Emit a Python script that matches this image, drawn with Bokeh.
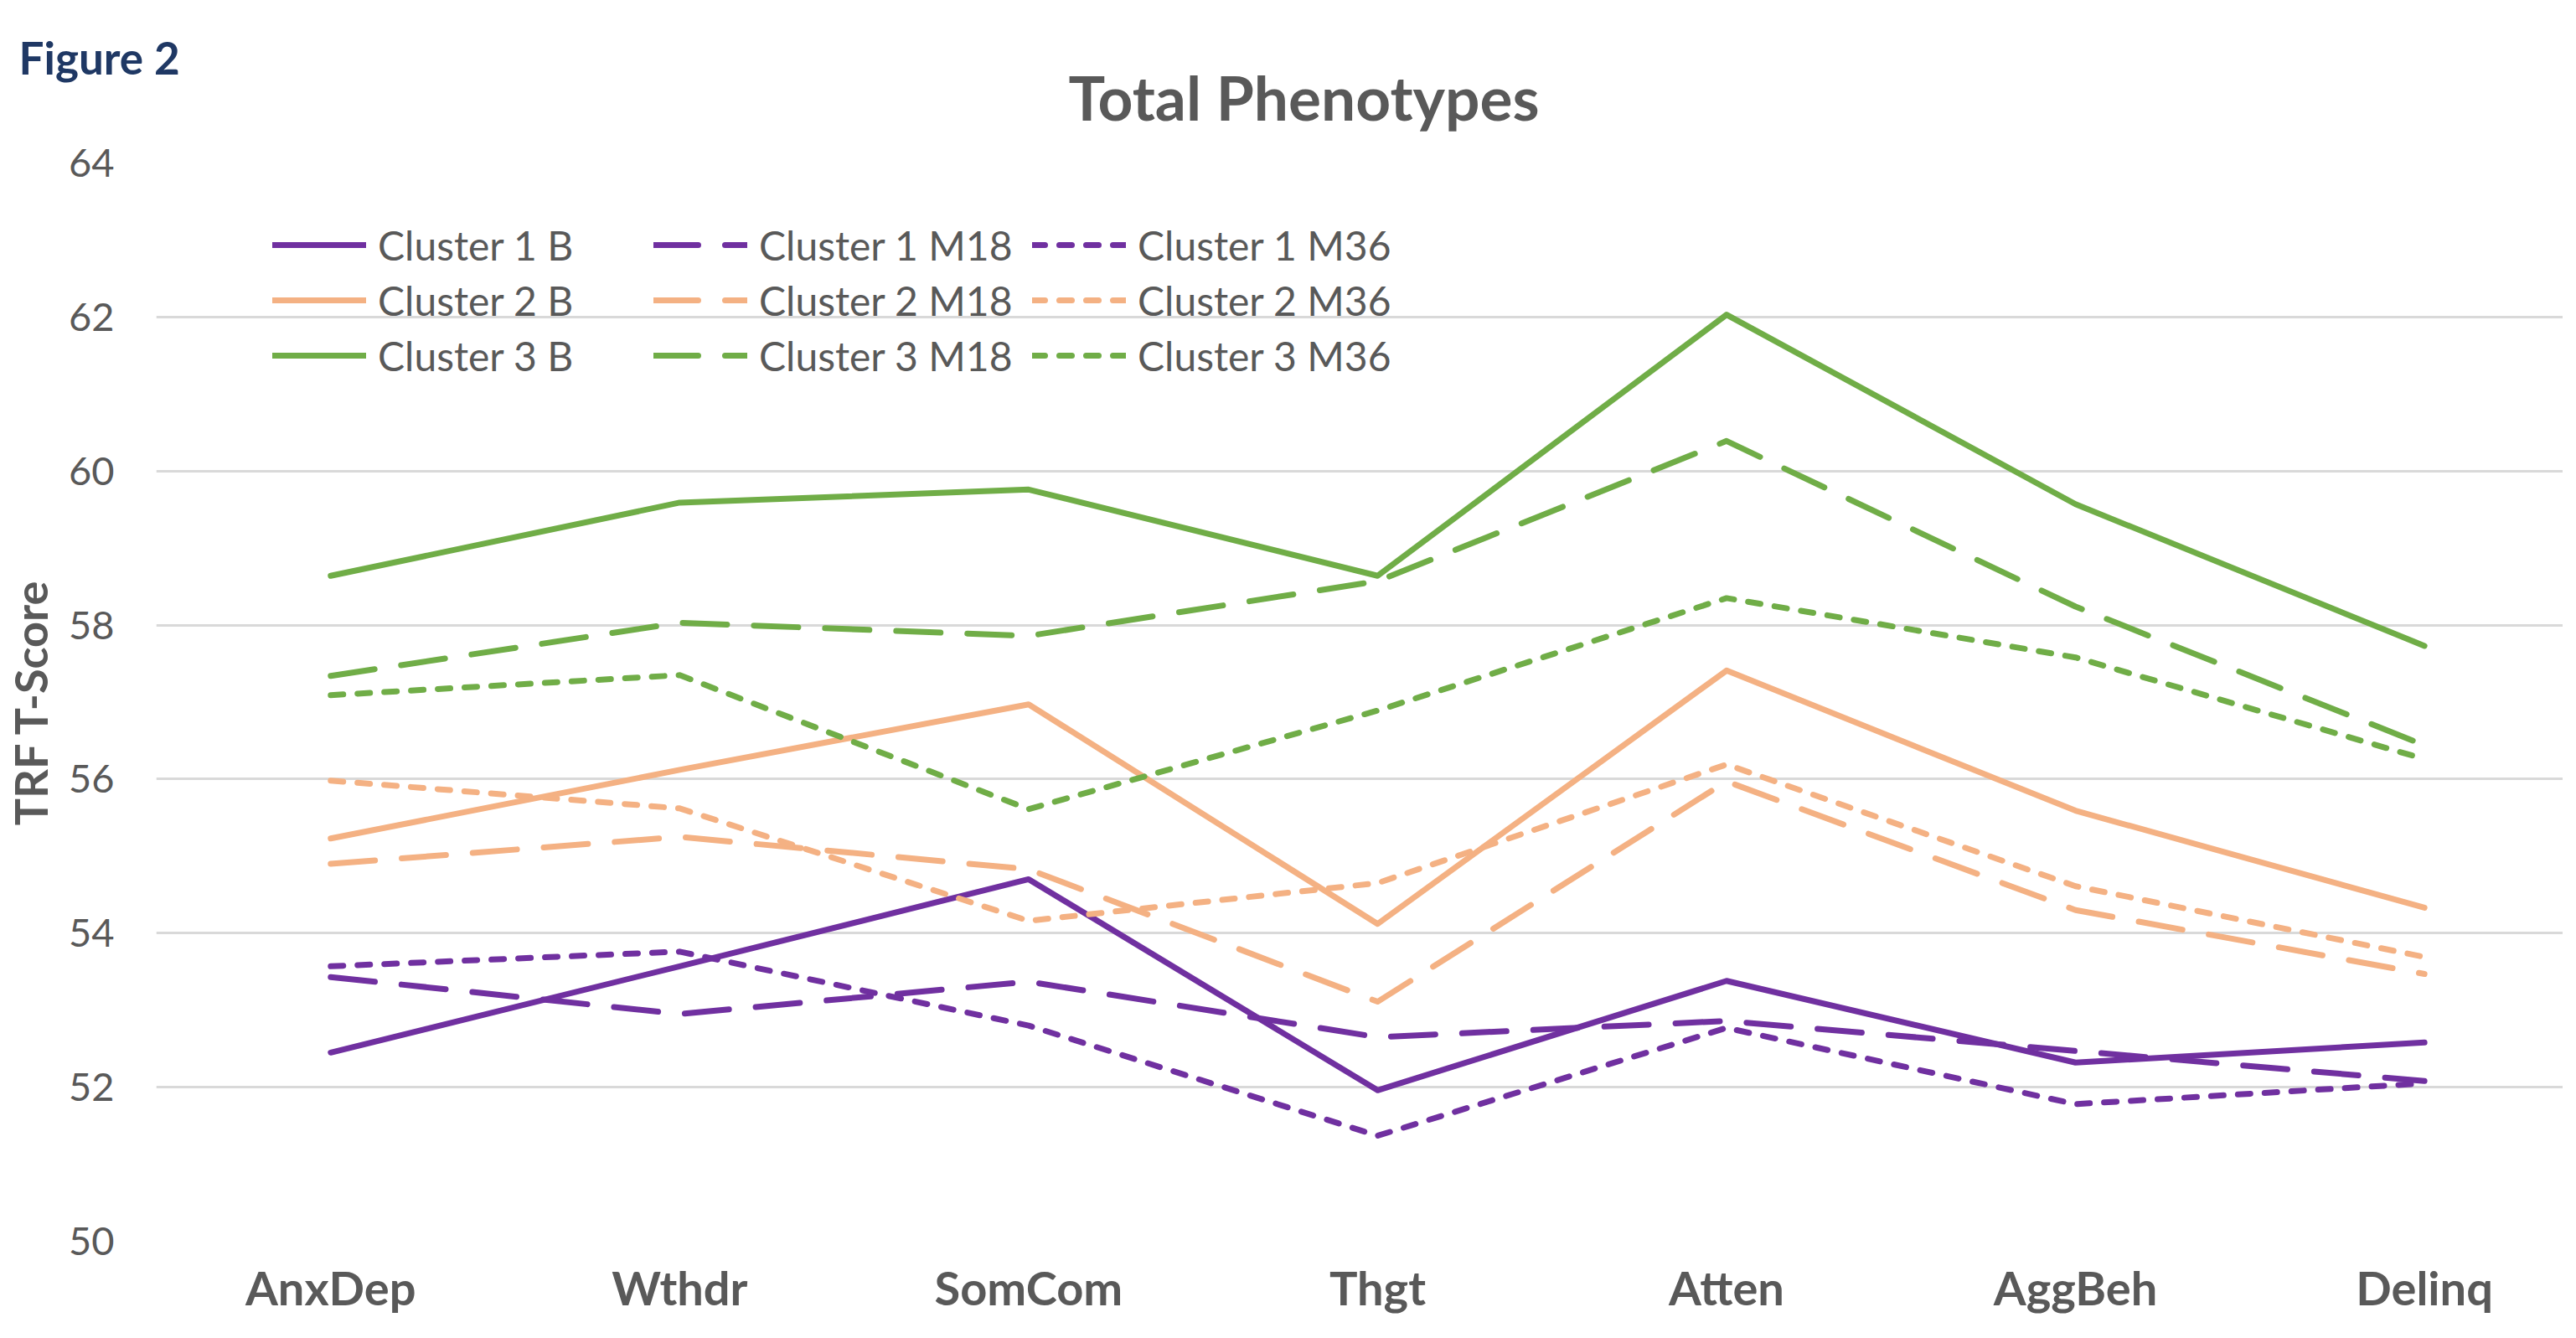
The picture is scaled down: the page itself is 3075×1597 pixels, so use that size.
from bokeh.plotting import figure
from bokeh.models import FixedTicker, Legend, LegendItem, Title
from bokeh.embed import file_html
from bokeh.resources import INLINE

categories = ["AnxDep", "Wthdr", "SomCom", "Thgt", "Atten", "AggBeh", "Delinq"]
y_ticks = [50, 52, 54, 56, 58, 60, 62, 64]

c1_b = [52.45, 53.57, 54.70, 51.96, 53.38, 52.32, 52.58]
c1_m18 = [53.43, 52.95, 53.37, 52.65, 52.86, 52.47, 52.08]
c1_m36 = [53.57, 53.76, 52.80, 51.37, 52.77, 51.78, 52.05]
c2_b = [55.23, 56.12, 56.97, 54.12, 57.41, 55.59, 54.33]
c2_m18 = [54.90, 55.25, 54.83, 53.11, 55.97, 54.30, 53.47]
c2_m36 = [55.98, 55.62, 54.16, 54.65, 56.19, 54.61, 53.69]
c3_b = [58.64, 59.59, 59.76, 58.64, 62.03, 59.57, 57.73]
c3_m18 = [57.34, 58.03, 57.86, 58.57, 60.39, 58.24, 56.44]
c3_m36 = [57.09, 57.35, 55.61, 56.89, 58.35, 57.58, 56.26]

series_names = [
    ["Cluster 1 B", "Cluster 2 B", "Cluster 3 B"],
    ["Cluster 1 M18", "Cluster 2 M18", "Cluster 3 M18"],
    ["Cluster 1 M36", "Cluster 2 M36", "Cluster 3 M36"],
]
series_values = [
    [c1_b, c2_b, c3_b],
    [c1_m18, c2_m18, c3_m18],
    [c1_m36, c2_m36, c3_m36],
]
colors = ["#7030A0", "#F4B183", "#70AD47"]
dashes = ["solid", "53 32", "15 17"]

FONT = "Lato"
GRAY = "#595959"

xs = list(range(len(categories)))

p = figure(width=3059, height=1581, output_backend="svg", toolbar_location=None,
           x_range=(-0.5, 6.397), y_range=(50, 64),
           min_border_left=176, min_border_right=0, min_border_top=194,
           min_border_bottom=100)
p.outline_line_color = None
p.background_fill_color = "white"
p.border_fill_color = "white"
p.xgrid.grid_line_color = None
p.ygrid.grid_line_color = "#D9D9D9"
p.ygrid.grid_line_width = 3

p.yaxis.ticker = FixedTicker(ticks=y_ticks)
p.yaxis.axis_line_color = None
p.yaxis.major_tick_line_color = None
p.yaxis.minor_tick_line_color = None
p.yaxis.major_label_text_font = FONT
p.yaxis.major_label_text_font_size = "47px"
p.yaxis.major_label_text_color = GRAY
p.yaxis.major_label_standoff = 44
p.yaxis.axis_label = "TRF T-Score"
p.yaxis.axis_label_text_font = FONT
p.yaxis.axis_label_text_font_size = "54px"
p.yaxis.axis_label_text_font_style = "bold"
p.yaxis.axis_label_text_color = GRAY
p.yaxis.axis_label_standoff = 10

p.xaxis.ticker = FixedTicker(ticks=xs)
p.xaxis.major_label_overrides = {i: c for i, c in zip(xs, categories)}
p.xaxis.axis_line_color = None
p.xaxis.major_tick_line_color = None
p.xaxis.minor_tick_line_color = None
p.xaxis.major_label_text_font = FONT
p.xaxis.major_label_text_font_size = "56px"
p.xaxis.major_label_text_font_style = "bold"
p.xaxis.major_label_text_color = GRAY
p.xaxis.major_label_standoff = 15

renderers = {}
for col in range(3):
    for row in range(3):
        r = p.line(xs, series_values[col][row], line_color=colors[row], line_width=7,
                   line_dash=dashes[col], line_cap="round", line_join="round")
        renderers[(col, row)] = r

legend_x = [139, 594, 1046]
for col in range(3):
    items = [LegendItem(label=series_names[col][row], renderers=[renderers[(col, row)]])
             for row in range(3)]
    lg = Legend(items=items, location=(legend_x[col], 1024), orientation="vertical",
                border_line_color=None, background_fill_alpha=0, padding=0, margin=0,
                spacing=0, glyph_width=112, glyph_height=66, label_height=66,
                label_standoff=14, label_text_font=FONT, label_text_font_size="48px",
                label_text_color=GRAY)
    p.add_layout(lg, "center")

main_title = Title(text="Total Phenotypes", align="left", offset=1089, standoff=70,
                   text_font=FONT, text_font_size="73px", text_font_style="bold",
                   text_color=GRAY)
p.add_layout(main_title, "above")
fig_title = Title(text="Figure 2", align="left", offset=-164, standoff=-130,
                  text_font=FONT, text_font_size="53px", text_font_style="bold",
                  text_color="#1F3864")
p.add_layout(fig_title, "above")

open("out.html", "w").write(file_html(p, INLINE))
